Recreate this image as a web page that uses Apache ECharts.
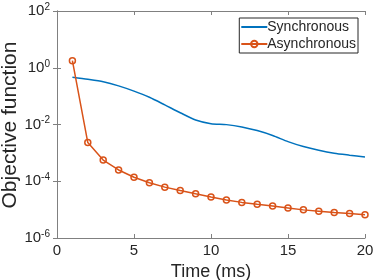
<!DOCTYPE html>
<html><head><meta charset="utf-8">
<script src="https://cdn.jsdelivr.net/npm/echarts@6/dist/echarts.min.js"></script>
<style>html,body{margin:0;padding:0;background:#fff}#c{width:374px;height:280px}</style>
</head><body><div id="c"></div>
<script>
var times = [1,2,3,4,5,6,7,8,9,10,11,12,13,14,15,16,17,18,19,20];
var synchronous = [0.46,0.39,0.32,0.23,0.15,0.091,0.049,0.026,0.0144,0.0107,0.0099,0.0082,0.0061,0.0041,0.0025,0.00167,0.00123,0.00097,0.00083,0.00072];
var asynchronous = [1.78,0.0023,0.00056,0.00025,0.000138,0.000089,0.000062,0.000047,0.000036,0.000028,0.000022,0.000018,0.0000155,0.0000135,0.0000115,0.0000098,0.0000088,0.0000079,0.0000073,0.0000066];
var xTicks = [0,5,10,15,20];
var yTickExponents = [-6,-4,-2,0,2];
var yName = 'Objective function';

var axisCol = '#808080', textCol = '#262626', font = 'Liberation Sans';
function pairs(v){ return times.map(function(t,i){ return [t, v[i]]; }); }
function yLab(v){ var e = Math.round(Math.log10(v)); if (yTickExponents.indexOf(e) < 0) return ''; return '{b|10}{s|' + e + '}'; }

var chart = echarts.init(document.getElementById('c'), null, {renderer:'canvas'});
chart.setOption({
  animation: false,
  backgroundColor: '#fff',
  textStyle: {fontFamily: font},
  grid: {left: 57, right: 9, top: 11, bottom: 42, containLabel: false, outerBoundsMode: 'none'},
  graphic: [{
    type: 'text', x: 10, y: 125, rotation: Math.PI / 2,
    style: {text: yName, fill: textCol, font: '21px "Liberation Sans"', textAlign: 'center', textVerticalAlign: 'middle'}
  }],
  legend: {
    orient: 'vertical', right: 16, top: 18, itemWidth: 26, itemHeight: 8, itemGap: 3,
    padding: [2, 2, 2, 1], borderColor: '#262626', borderWidth: 1, backgroundColor: '#fff',
    textStyle: {fontFamily: font, fontSize: 14, color: textCol, padding: [0,0,0,-5]},
    data: [{name: 'Synchronous', itemStyle: {opacity: 0}}, 'Asynchronous']
  },
  xAxis: [{
    type: 'value', min: xTicks[0], max: xTicks[xTicks.length-1], interval: 5,
    name: 'Time (ms)', nameLocation: 'middle', nameGap: 23,
    nameTextStyle: {fontFamily: font, fontSize: 18, color: textCol},
    axisLine: {lineStyle: {color: axisCol, width: 1}},
    axisTick: {inside: true, length: 4, lineStyle: {color: axisCol}},
    axisLabel: {fontFamily: font, fontSize: 15, color: textCol, margin: 5},
    splitLine: {show: false}
  }, {
    type: 'value', position: 'top', min: xTicks[0], max: xTicks[xTicks.length-1], interval: 5,
    axisLine: {show: true, lineStyle: {color: axisCol, width: 1}},
    axisTick: {inside: true, length: 4, lineStyle: {color: axisCol}},
    axisLabel: {show: false}, splitLine: {show: false}
  }],
  yAxis: [{
    type: 'log', logBase: 10, min: 1e-6, max: 100, interval: 2,
    axisLine: {show: true, lineStyle: {color: axisCol, width: 1}},
    axisTick: {inside: true, length: 4, lineStyle: {color: axisCol}},
    axisLabel: {fontFamily: font, color: textCol, margin: 7, formatter: yLab,
      rich: {b: {fontSize: 15, color: textCol, fontFamily: font},
             s: {fontSize: 10, color: textCol, fontFamily: font, verticalAlign: 'top', padding: [0,0,8,0]}}},
    splitLine: {show: false}
  }, {
    type: 'log', logBase: 10, min: 1e-6, max: 100, interval: 2, position: 'right',
    axisLine: {show: true, lineStyle: {color: axisCol, width: 1}},
    axisTick: {inside: true, length: 4, lineStyle: {color: axisCol}},
    axisLabel: {show: false}, splitLine: {show: false}
  }],
  series: [{
    name: 'Synchronous', type: 'line', data: pairs(synchronous), smooth: 0.25,
    showSymbol: false, symbol: 'none', lineStyle: {color: '#0072BD', width: 1.5}, itemStyle: {color: '#0072BD'}
  }, {
    name: 'Asynchronous', type: 'line', data: pairs(asynchronous),
    symbol: 'circle', symbolSize: 6,
    lineStyle: {color: '#D95319', width: 1.5},
    itemStyle: {color: 'rgba(0,0,0,0)', borderColor: '#D95319', borderWidth: 1.5}
  }]
});
</script></body></html>
